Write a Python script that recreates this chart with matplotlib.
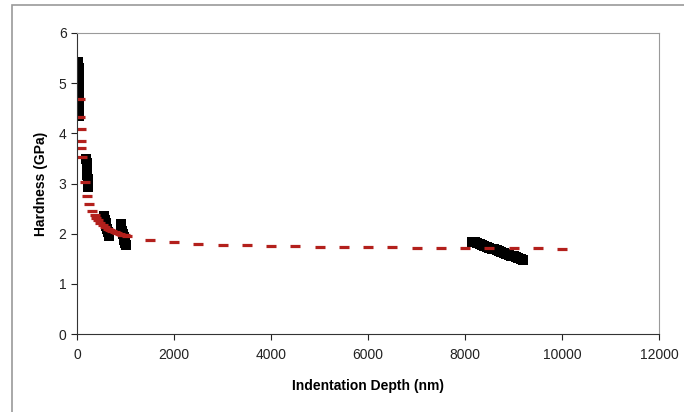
import matplotlib
matplotlib.use('Agg')
import matplotlib.pyplot as plt
from matplotlib.patches import Rectangle

plt.rcParams['font.family'] = ['Liberation Sans', 'DejaVu Sans']

# measured hardness (black squares), by indent cluster
depth_meas = [30, 32, 34, 36, 38, 40, 42, 44, 46, 48, 50,
              195, 200, 205, 210, 215, 220, 225, 230,
              560, 575, 590, 605, 620, 635, 650, 665,
              900, 915, 930, 945, 960, 975, 990, 1005,
              8150, 8200, 8250, 8300, 8350, 8400, 8450, 8500, 8550, 8600, 8650, 8700,
              8750, 8800, 8850, 8900, 8950, 9000, 9050, 9100, 9150, 9200]
hard_meas = [5.42, 5.30, 5.18, 5.06, 4.95, 4.84, 4.73, 4.62, 4.52, 4.43, 4.35,
             3.48, 3.40, 3.32, 3.24, 3.16, 3.08, 3.00, 2.93,
             2.35, 2.28, 2.21, 2.15, 2.09, 2.04, 1.99, 1.95,
             2.19, 2.12, 2.06, 2.00, 1.94, 1.88, 1.82, 1.77,
             1.84, 1.83, 1.81, 1.79, 1.77, 1.76, 1.74, 1.72, 1.70, 1.69, 1.67, 1.65,
             1.63, 1.62, 1.60, 1.58, 1.56, 1.55, 1.53, 1.51, 1.49, 1.47]

# fitted curve (red dashes)
depth_fit = [53, 63, 73, 84, 92, 105, 160, 213, 257, 313, 361, 402, 433,
             480, 530, 580, 630, 680, 730, 780, 830, 880, 930, 980, 1030,
             1500, 2000, 2500, 3000, 3500, 4000, 4500, 5000, 5500, 6000,
             6500, 7000, 7500, 8000, 8500, 9000, 9500, 10000]
hard_fit = [4.69, 4.33, 4.09, 3.85, 3.71, 3.53, 3.02, 2.75, 2.60, 2.46, 2.37, 2.31, 2.27,
            2.22, 2.17, 2.13, 2.10, 2.07, 2.05, 2.03, 2.01, 2.00, 1.98, 1.97, 1.96,
            1.88, 1.83, 1.80, 1.78, 1.77, 1.76, 1.75, 1.74, 1.74, 1.73,
            1.73, 1.72, 1.72, 1.72, 1.71, 1.71, 1.71, 1.70]

fig = plt.figure(figsize=(6.84, 4.12), dpi=100)
# outer chart frame
fig.patches.append(Rectangle((12/684, -0.1), 1.1, 1.1 - 5/412, transform=fig.transFigure,
                             fill=False, edgecolor='#9a9a9a', linewidth=1.2))
ax = fig.add_axes([77/684, 78/412, 582/684, 301/412])

ax.plot(depth_meas, hard_meas, 's', color='black', markersize=7.5, markeredgewidth=0)
ax.plot(depth_fit, hard_fit, '_', color='#b3201c', markersize=7.5, markeredgewidth=2.3)

ax.set_xlim(0, 12000)
ax.set_ylim(0, 6)
ax.set_xticks(range(0, 12001, 2000))
ax.set_yticks(range(0, 7))
ax.tick_params(direction='out', length=4, width=0.8, labelsize=10, colors='#222222')
ax.tick_params(axis='x', pad=6)
for s in ['top', 'right']:
    ax.spines[s].set_color('#9a9a9a')
for s in ['left', 'bottom']:
    ax.spines[s].set_color('#333333')
ax.set_xlabel('Indentation Depth (nm)', fontsize=10, fontweight='bold', labelpad=12)
ax.set_ylabel('Hardness (GPa)', fontsize=10, fontweight='bold', labelpad=8)

plt.savefig('out.png', dpi=100)
